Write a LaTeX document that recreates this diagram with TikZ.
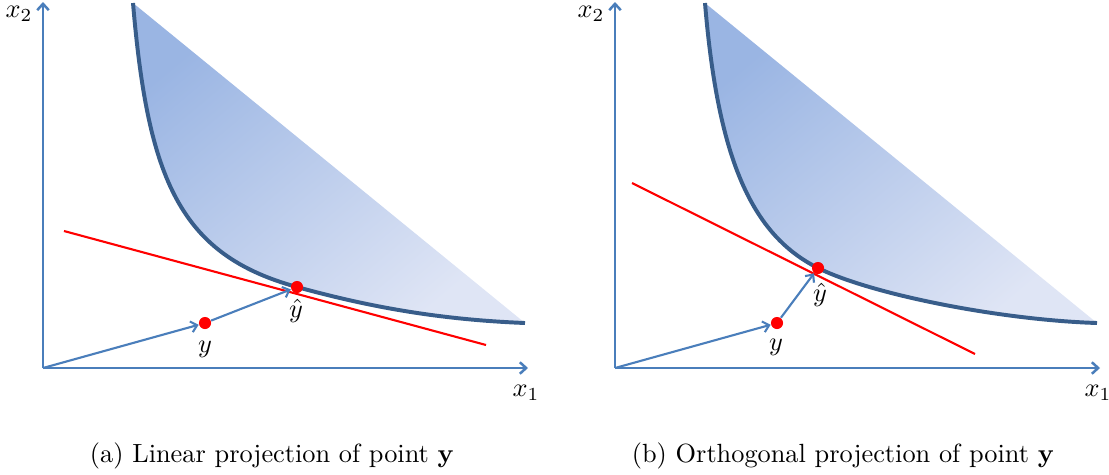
\documentclass[tikz,border=0pt]{standalone}
\usetikzlibrary{arrows.meta}
\definecolor{axisblue}{HTML}{4A7EBB}
\definecolor{curveblue}{HTML}{385D8A}
\definecolor{filldark}{HTML}{9AB5E3}
\definecolor{filllight}{HTML}{DFE5F5}
\begin{document}
\begin{tikzpicture}[x=0.38pt,y=-0.38pt,
  axis/.style={draw=axisblue,line width=0.95pt,-{Straight Barb[length=2.4pt,width=4.4pt]}},
  vec/.style={draw=axisblue,line width=0.8pt,-{Straight Barb[length=2.3pt,width=4.2pt]}},
  bound/.style={draw=curveblue,line width=1.5pt},
  region/.style={top color=filldark,bottom color=filllight,shading angle=40},
  redline/.style={draw=red,line width=0.8pt},
  dot/.style={circle,fill=red,inner sep=0pt,minimum size=4.6pt},
  lbl/.style={inner sep=0pt,font=\normalsize},
  captext/.style={inner sep=0pt,font=\normalsize}]
\useasboundingbox (0,0) rectangle (1109,474);
% ---------- panel (a)
\coordinate (oa) at (43,368);
\coordinate (xa) at (528,368);
\coordinate (ta) at (43,2);
\shade[region] (133,3) .. controls (148,180) and (180,255) .. (297,287) .. controls (380,310) and (450,320) .. (525,323) -- cycle;
\draw[bound] (133,3) .. controls (148,180) and (180,255) .. (297,287) .. controls (380,310) and (450,320) .. (525,323);
\draw[axis] (oa) -- (ta);
\draw[axis] (oa) -- (xa);
\node[lbl] (x2a) at (19,14) {$x_2$};
\node[lbl] (x1a) at (526,393) {$x_1$};
\coordinate (ra1) at (64,231);
\coordinate (ra2) at (486,345);
\draw[redline] (ra1) -- (ra2);
\node[dot] (ya) at (205,323) {};
\node[dot] (yha) at (297,287) {};
\draw[vec] (oa) -- (ya);
\draw[vec] (ya) -- (yha);
\node[lbl] (lya) at (205,349) {$y$};
\node[lbl] (lyha) at (296,311) {$\hat{y}$};
\node[captext] (capa) at (272,456) {(a) Linear projection of point $\mathbf{y}$};
% ---------- panel (b)
\coordinate (ob) at (615,368);
\coordinate (xb) at (1100,368);
\coordinate (tb) at (615,2);
\shade[region] (705,3) .. controls (718,160) and (752,235) .. (818,268) .. controls (870,294) and (1000,320) .. (1097,323) -- cycle;
\draw[bound] (705,3) .. controls (718,160) and (752,235) .. (818,268) .. controls (870,294) and (1000,320) .. (1097,323);
\draw[axis] (ob) -- (tb);
\draw[axis] (ob) -- (xb);
\node[lbl] (x2b) at (591,14) {$x_2$};
\node[lbl] (x1b) at (1098,393) {$x_1$};
\coordinate (rb1) at (632,183);
\coordinate (rb2) at (975,354);
\draw[redline] (rb1) -- (rb2);
\node[dot] (yb) at (777,323) {};
\node[dot] (yhb) at (818,268) {};
\draw[vec] (ob) -- (yb);
\draw[vec] (yb) -- (yhb);
\node[lbl] (lyb) at (776,347) {$y$};
\node[lbl] (lyhb) at (820,295) {$\hat{y}$};
\node[captext] (capb) at (843,456) {(b) Orthogonal projection of point $\mathbf{y}$};
\end{tikzpicture}
\end{document}
